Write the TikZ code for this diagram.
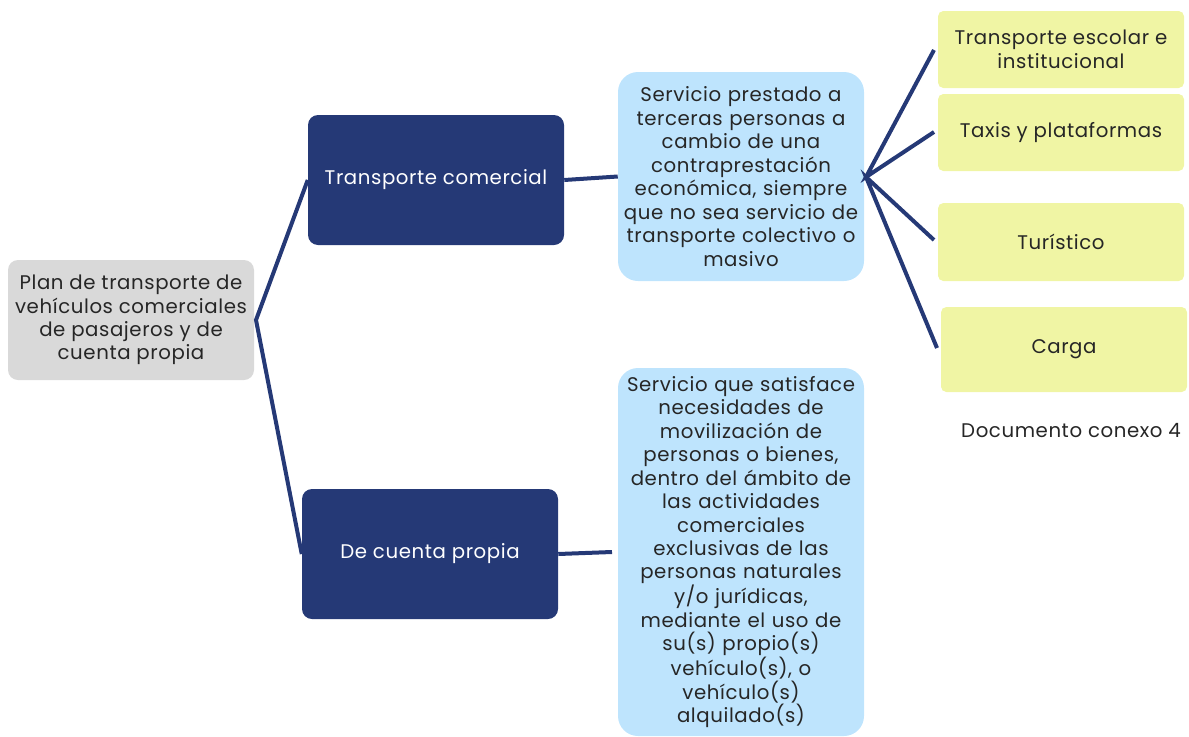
\documentclass[tikz,border=0pt]{standalone}
\usepackage{fontspec}
\setmainfont{Poppins}[LetterSpace=3]
\definecolor{navy}{RGB}{37,57,118}
\definecolor{lblue}{RGB}{190,228,253}
\definecolor{lyellow}{RGB}{240,245,164}
\definecolor{lgray}{RGB}{217,217,217}
\definecolor{txt}{RGB}{38,38,38}
\begin{document}
\begin{tikzpicture}[x=0.75pt,y=-0.75pt,
  base/.style={inner sep=0pt,align=center,font=\fontsize{14.8}{17.6}\selectfont,text=txt},
  rootbox/.style={base,fill=lgray,rounded corners=7.5pt,minimum width=184.5pt,minimum height=90pt},
  navybox/.style={base,fill=navy,text=white,rounded corners=7.5pt,minimum width=192pt,minimum height=97.5pt},
  bluebox/.style={base,fill=lblue,rounded corners=15pt,minimum width=184.5pt,text width=182pt},
  yelbox/.style={base,fill=lyellow,rounded corners=4pt,minimum width=184.5pt},
  link/.style={draw=navy,line width=3pt}]
\useasboundingbox (0,0) rectangle (1189,736);
\node[rootbox] (root) at (131,320) {Plan de transporte de\\vehículos comerciales\\de pasajeros y de\\cuenta propia};
\node[navybox] (tc) at (436,180) {Transporte comercial};
\node[navybox] (dcp) at (430,554) {De cuenta propia};
\node[bluebox,minimum height=156.75pt] (b1) at (741,176.5) {Servicio prestado a\\terceras personas a\\cambio de una\\contraprestación\\económica, siempre\\que no sea servicio de\\transporte colectivo o\\masivo};
\node[bluebox,minimum height=276pt] (b2) at (741,552) {Servicio que satisface\\necesidades de\\movilización de\\personas o bienes,\\dentro del ámbito de\\las actividades\\comerciales\\exclusivas de las\\personas naturales\\y/o jurídicas,\\mediante el uso de\\su(s) propio(s)\\vehículo(s), o\\vehículo(s)\\alquilado(s)};
\node[yelbox,minimum height=57.75pt] (y1) at (1061,49.5) {Transporte escolar e\\institucional};
\node[yelbox,minimum height=57.75pt] (y2) at (1061,132.5) {Taxis y plataformas};
\node[yelbox,minimum height=58.5pt] (y3) at (1061,242) {Turístico};
\node[yelbox,minimum height=63.75pt] (y4) at (1064,349.5) {Carga};
\node[base] (doc) at (1071,431) {Documento conexo 4};
\coordinate (rj) at (256,320);
\coordinate (fan) at (866,177);
\coordinate (e1) at (934,50);
\coordinate (e2) at (934,132);
\coordinate (e3) at (934,240);
\coordinate (e4) at (937,348);
\coordinate (de) at (612,552);
\draw[link] (tc.west) -- (rj) -- (dcp.west);
\draw[link] (tc.east) -- (b1.west);
\draw[link] (dcp.east) -- (de);
\draw[link] (e1) -- (fan) -- (e2);
\draw[link] (e3) -- (fan) -- (e4);
\end{tikzpicture}
\end{document}
